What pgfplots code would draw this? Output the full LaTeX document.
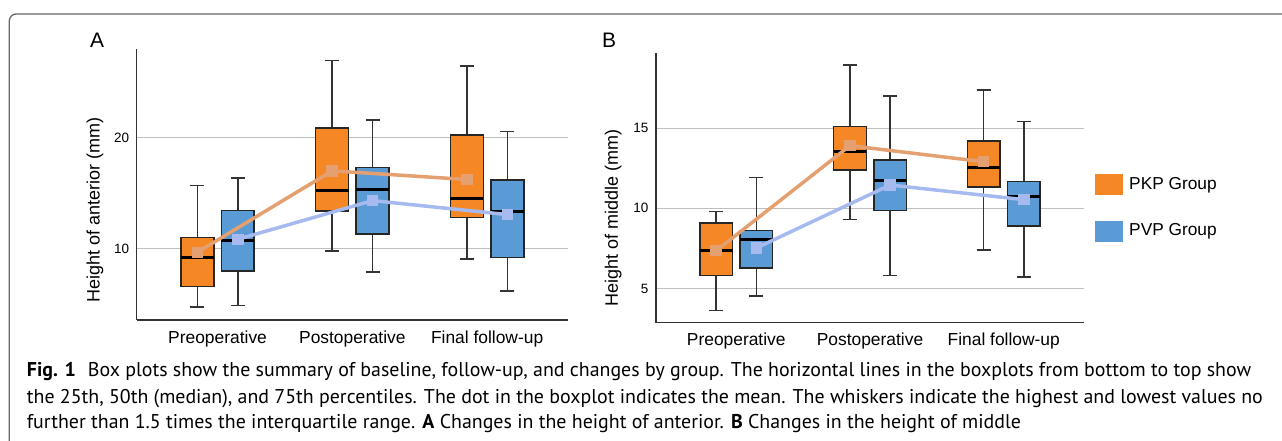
\documentclass[border=0pt]{standalone}
\usepackage{fontspec}
\setmainfont{Liberation Sans}
\newfontfamily\capfont{PT Sans}
\usepackage{pgfplots}
\pgfplotsset{compat=1.18}
\usepgfplotslibrary{statistics}

\definecolor{pkp}{RGB}{245,135,37}
\definecolor{pvp}{RGB}{91,155,213}
\definecolor{pkpmean}{RGB}{228,160,112}
\definecolor{pvpmean}{RGB}{166,186,240}

\pgfplotsset{
  panel/.style={
    scale only axis,
    xmin=-0.6, xmax=2.6,
    axis x line*=bottom, axis y line*=left,
    axis line style={-, black!80, line width=1.4pt},
    major tick length=0pt,
    xtick={0,1,2},
    xticklabels={Preoperative,Postoperative,Final follow-up},
    xticklabel style={font=\fontsize{17.4}{20}\selectfont, yshift=-7pt},
    yticklabel style={font=\fontsize{13.5}{16}\selectfont, xshift=-4pt},
    /pgf/number format/assume math mode=true,
    ymajorgrids,
    grid style={black!25, line width=1pt},
    boxplot/draw direction=y,
  },
  pbox/.style={solid, fill=#1, draw=black!85, line width=1.5pt, mark=none},
  meanline/.style={line width=3.5pt, mark=square*, mark size=4pt,
    mark options={solid, fill=#1, draw=#1}, draw=#1},
}
% quick boxplot: lower whisker, lower quartile, median, upper quartile, upper whisker, position, colour
\newcommand{\qbox}[7]{%
  \addplot+[pbox=#7, boxplot prepared={lower whisker=#1, lower quartile=#2, median=#3,
    upper quartile=#4, upper whisker=#5, draw position=#6, box extend=0.244, whisker extend=0.104,
    every whisker/.style={black!80, line width=1.5pt},
    every median/.style={black, line width=3pt}}] coordinates {};}

\begin{document}
\begin{tikzpicture}
\useasboundingbox (0,0) rectangle (1282pt,440pt);
% frame
\draw[black!60, line width=1.3pt, rounded corners=7pt] (9.3pt,-20pt) |- (1300pt,426pt);

% ---------- panel A: height of anterior ----------
\begin{axis}[panel, at={(136.7pt,120pt)}, anchor=south west,
  width=431.3pt, height=271pt, ymin=3.6, ymax=28.0, ytick={10,20}]
\qbox{4.75}{6.6}{9.19}{11.05}{15.7}{-0.15}{pkp}
\qbox{9.82}{13.4}{15.29}{20.87}{26.97}{0.85}{pkp}
\qbox{9.1}{12.85}{14.57}{20.27}{26.46}{1.85}{pkp}
\qbox{4.9}{7.99}{10.78}{13.45}{16.4}{0.15}{pvp}
\qbox{7.9}{11.35}{15.35}{17.33}{21.6}{1.15}{pvp}
\qbox{6.2}{9.25}{13.33}{16.19}{20.57}{2.15}{pvp}
% means
\addplot[meanline=pkpmean] coordinates {(-0.15,9.7) (0.85,17.03) (1.85,16.25)};
\addplot[meanline=pvpmean] coordinates {(0.15,10.87) (1.15,14.35) (2.15,13.09)};
\end{axis}

% ---------- panel B: height of middle ----------
\begin{axis}[panel, at={(656pt,117.3pt)}, anchor=south west,
  width=428pt, height=269.4pt, ymin=2.88, ymax=19.65, ytick={5,10,15}]
\qbox{3.63}{5.81}{7.4}{9.1}{9.79}{-0.15}{pkp}
\qbox{9.31}{12.4}{13.52}{15.08}{18.92}{0.85}{pkp}
\qbox{7.42}{11.33}{12.53}{14.2}{17.38}{1.85}{pkp}
\qbox{4.54}{6.27}{8.03}{8.63}{11.93}{0.15}{pvp}
\qbox{5.81}{9.87}{11.72}{13.0}{16.99}{1.15}{pvp}
\qbox{5.72}{8.9}{10.72}{11.66}{15.41}{2.15}{pvp}
\addplot[meanline=pkpmean] coordinates {(-0.15,7.36) (0.85,13.9) (1.85,12.9)};
\addplot[meanline=pvpmean] coordinates {(0.15,7.53) (1.15,11.45) (2.15,10.54)};
\end{axis}

% labels
\node[anchor=base west, inner sep=0pt, font=\fontsize{21}{24}\selectfont] at (90pt,392pt) {A};
\node[anchor=base west, inner sep=0pt, font=\fontsize{21}{24}\selectfont] at (602pt,392pt) {B};
\node[rotate=90, font=\fontsize{18}{21}\selectfont] at (95pt,230pt) {Height of anterior (mm)};
\node[rotate=90, font=\fontsize{18}{21}\selectfont] at (613.3pt,221.7pt) {Height of middle (mm)};

% legend
\fill[pkp] (1095pt,245pt) rectangle ++(28pt,21pt);
\fill[pvp] (1095pt,198.3pt) rectangle ++(28pt,21pt);
\node[anchor=west, inner sep=0pt, font=\fontsize{17.3}{20}\selectfont] at (1129pt,255pt) {PKP Group};
\node[anchor=west, inner sep=0pt, font=\fontsize{17.3}{20}\selectfont] at (1129pt,209pt) {PVP Group};

% caption
\begin{scope}[every node/.style={anchor=base west, inner sep=0pt, font=\capfont\fontsize{19.9}{22}\selectfont}]
\node at (26.7pt,63.3pt) {\textbf{Fig. 1}\hspace{12pt}Box plots show the summary of baseline, follow-up, and changes by group. The horizontal lines in the boxplots from bottom to top show};
\node at (26.7pt,36.7pt) {the 25th, 50th (median), and 75th percentiles. The dot in the boxplot indicates the mean. The whiskers indicate the highest and lowest values no};
\node at (26.7pt,11.7pt) {further than 1.5 times the interquartile range. \textbf{A} Changes in the height of anterior. \textbf{B} Changes in the height of middle};
\end{scope}
\end{tikzpicture}
\end{document}
